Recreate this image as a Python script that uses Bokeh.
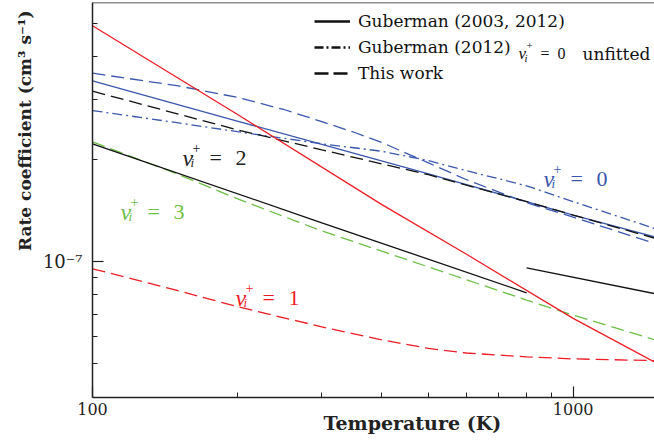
import math
from bokeh.plotting import figure
from bokeh.models import FixedTicker, Label, Span, Legend, LegendItem, CustomJSTickFormatter, Title
from bokeh.embed import file_html
from bokeh.resources import INLINE

# ---------------- data ----------------
# v+ = 0
T_gub_v0 = [100, 200, 300, 500, 800, 1000, 1480]
k_gub_v0 = [3.40e-7, 2.59e-7, 2.21e-7, 1.81e-7, 1.50e-7, 1.37e-7, 1.18e-7]
T_unf_v0 = [100, 150, 200, 300, 400, 500, 600, 800, 1000, 1480]
k_unf_v0 = [2.78e-7, 2.56e-7, 2.41e-7, 2.22e-7, 2.11e-7, 1.98e-7, 1.85e-7, 1.67e-7, 1.50e-7, 1.25e-7]
T_tw_v0 = [100, 150, 200, 250, 300, 350, 400, 450, 500, 600, 800, 1000, 1480]
k_tw_v0 = [3.58e-7, 3.29e-7, 3.04e-7, 2.80e-7, 2.58e-7, 2.40e-7, 2.24e-7, 2.08e-7, 1.95e-7, 1.74e-7, 1.49e-7, 1.35e-7, 1.13e-7]
# v+ = 2 (this work)
T_tw_v2 = [100, 200, 300, 500, 800, 1000, 1480]
k_tw_v2 = [3.17e-7, 2.44e-7, 2.13e-7, 1.80e-7, 1.50e-7, 1.37e-7, 1.17e-7]
# v+ = 1
T_gub_v1 = [100, 200, 400, 600, 1000, 1480]
k_gub_v1 = [4.94e-7, 2.71e-7, 1.47e-7, 1.05e-7, 6.80e-8, 5.05e-8]
T_tw_v1 = [100, 150, 200, 300, 400, 500, 600, 800, 1000, 1480]
k_tw_v1 = [9.52e-8, 8.22e-8, 7.37e-8, 6.42e-8, 5.88e-8, 5.55e-8, 5.38e-8, 5.24e-8, 5.17e-8, 5.11e-8]
# v+ = 2 (Guberman, two fits)
T_gub_v2a = [100, 300, 800]
k_gub_v2a = [2.22e-7, 1.30e-7, 8.09e-8]
T_gub_v2b = [800, 1480]
k_gub_v2b = [9.58e-8, 8.04e-8]
# v+ = 3 (this work)
T_tw_v3 = [100, 150, 200, 300, 500, 800, 1000, 1480]
k_tw_v3 = [2.25e-7, 1.81e-7, 1.53e-7, 1.23e-7, 9.64e-8, 7.70e-8, 6.95e-8, 5.88e-8]

x_ticks = [100, 1000]
x_minor = [200, 300, 400, 500, 600, 700, 800, 900]
y_ticks = [1e-7]
y_minor = [5e-8, 6e-8, 7e-8, 8e-8, 9e-8, 2e-7, 3e-7, 4e-7, 5e-7]

legend_labels = ["Guberman (2003, 2012)", "Guberman (2012)", "This work"]
x_title = "Temperature (K)"
y_title = "Rate coefficient (cm\u00b3 s\u207b\u00b9)"

# ---------------- layout ----------------
X_START, X_END = 100, 1476.5
Y_START, Y_END = 3.98e-8, 5.78e-7
FL, FR, FT, FB = 92, 654, 2, 397

RED = "#ec1c24"
BLUE = "#3a57ad"
GREEN = "#6cbf45"
BLACK = "#111111"
SERIF = "DejaVu Serif"
MATH = "Liberation Serif"


def px2x(px):
    a, b = math.log10(X_START), math.log10(X_END)
    return 10 ** (a + (px - FL) / (FR - FL) * (b - a))


def py2y(py):
    a, b = math.log10(Y_START), math.log10(Y_END)
    return 10 ** (b - (py - FT) / (FB - FT) * (b - a))


p = figure(width=654, height=442, x_axis_type="log", y_axis_type="log",
           x_range=(X_START, X_END), y_range=(Y_START, Y_END),
           output_backend="svg", toolbar_location=None,
           min_border_left=FL, min_border_right=0, min_border_top=FT,
           min_border_bottom=442 - FB)
p.outline_line_color = None
p.grid.visible = False
p.background_fill_color = "white"
p.border_fill_color = "white"

DASH = "13 6"
DASHDOT = "10 4 2 4"
LW = 1.3

p.line(T_tw_v0, k_tw_v0, line_color=BLUE, line_width=LW, line_dash=DASH)
p.line(T_unf_v0, k_unf_v0, line_color=BLUE, line_width=LW, line_dash=DASHDOT)
p.line(T_gub_v0, k_gub_v0, line_color=BLUE, line_width=LW)
p.line(T_tw_v2, k_tw_v2, line_color=BLACK, line_width=LW, line_dash=DASH)
p.line(T_tw_v3, k_tw_v3, line_color=GREEN, line_width=LW, line_dash=DASH)
p.line(T_gub_v2a, k_gub_v2a, line_color=BLACK, line_width=LW)
p.line(T_gub_v2b, k_gub_v2b, line_color=BLACK, line_width=LW)
p.line(T_tw_v1, k_tw_v1, line_color=RED, line_width=LW, line_dash=DASH)
p.line(T_gub_v1, k_gub_v1, line_color=RED, line_width=LW)

# legend (black sample lines; renderers hold no visible data)
nan = [float("nan")]
r1 = p.line(nan, nan, line_color=BLACK, line_width=2.6)
r2 = p.line(nan, nan, line_color=BLACK, line_width=2.6, line_dash="9 3 2 3")
r3 = p.line(nan, nan, line_color=BLACK, line_width=2.6, line_dash="14 5")
leg = Legend(items=[LegendItem(label=legend_labels[0], renderers=[r1]),
                    LegendItem(label=legend_labels[1], renderers=[r2]),
                    LegendItem(label=legend_labels[2], renderers=[r3])],
             location=(222, 314), padding=0, margin=0, spacing=6,
             glyph_width=36, glyph_height=20, label_height=20, label_standoff=8,
             label_text_font=SERIF, label_text_font_size="17px", label_text_color=BLACK,
             border_line_color=None, background_fill_alpha=0)
p.add_layout(leg)

# axes
ax_col = "#222222"
for ax in (p.xaxis[0], p.yaxis[0]):
    ax.axis_line_color = ax_col
    ax.axis_line_width = 1.5
    ax.major_tick_line_color = ax_col
    ax.minor_tick_line_color = ax_col
    ax.major_tick_line_width = 1.2
    ax.minor_tick_line_width = 1.0
    ax.major_tick_in = 11
    ax.major_tick_out = 0
    ax.minor_tick_in = 5
    ax.minor_tick_out = 0

p.xaxis.ticker = FixedTicker(ticks=x_ticks, minor_ticks=x_minor)
p.xaxis.formatter = CustomJSTickFormatter(code="return tick.toFixed(0);")
p.xaxis.major_label_text_font = SERIF
p.xaxis.major_label_text_font_size = "16px"
p.xaxis.major_label_text_color = ax_col
p.xaxis.major_label_standoff = 5

p.yaxis.ticker = FixedTicker(ticks=y_ticks, minor_ticks=y_minor)
p.yaxis.formatter = CustomJSTickFormatter(code="return '10\\u207B\\u2077';")
p.yaxis.major_label_text_font = SERIF
p.yaxis.major_label_text_font_size = "18px"
p.yaxis.major_label_text_color = ax_col
p.yaxis.major_label_standoff = 10

p.add_layout(Span(location=Y_END, dimension="width", line_color=ax_col, line_width=1.5))


def make_title(text, size, align, offset, standoff, valign):
    try:
        t = Title(text=text, align=align, offset=offset, standoff=standoff, vertical_align=valign)
    except Exception:
        t = Title(text=text, align=align, offset=offset, standoff=0, vertical_align=valign)
    t.text_font = SERIF
    t.text_font_size = f"{size}px"
    t.text_font_style = "bold"
    t.text_color = ax_col
    return t


p.add_layout(make_title(y_title, 17, "right", 8, 10, "bottom"), "left")
p.add_layout(make_title(x_title, 19, "left", 231, -12, "top"), "below")


def lab(px, py, text, size, color=BLACK, font=SERIF, style="normal", align="left",
        baseline="alphabetic"):
    p.add_layout(Label(x=px2x(px), y=py2y(py), text=text, text_font=font,
                       text_font_size=f"{size}px", text_color=color, text_font_style=style,
                       text_align=align, text_baseline=baseline))


def vlabel(px, py, digit, color, big=22, small=14):
    lab(px, py, "v", big + 2, color=color, font=MATH, style="italic")
    lab(px + 10, py - 10, "+", small, color=color, font=MATH)
    lab(px + 8, py + 5, "i", small - 1, color=color, font=MATH, style="italic")
    lab(px + 27, py, "=", big, color=color, font=MATH)
    lab(px + 53, py, digit, big, color=color, font=MATH)


vlabel(182, 157, "2", "#222222")
vlabel(120, 211, "3", GREEN)
vlabel(235, 297, "1", RED)
vlabel(543, 178, "0", BLUE)

# math part of legend row 2
lx, ly = 518, 53
lab(lx, ly, "v", 17, color=BLACK, font=MATH, style="italic")
lab(lx + 8, ly - 8, "+", 11, color=BLACK, font=MATH)
lab(lx + 6, ly + 4, "i", 11, color=BLACK, font=MATH, style="italic")
lab(lx + 22, ly, "=", 16, color=BLACK, font=MATH)
lab(lx + 39, ly, "0", 16, color=BLACK, font=MATH)
lab(582, ly, "unfitted", 17, color=BLACK)

open("out.html", "w", encoding="utf-8").write(file_html(p, INLINE))
